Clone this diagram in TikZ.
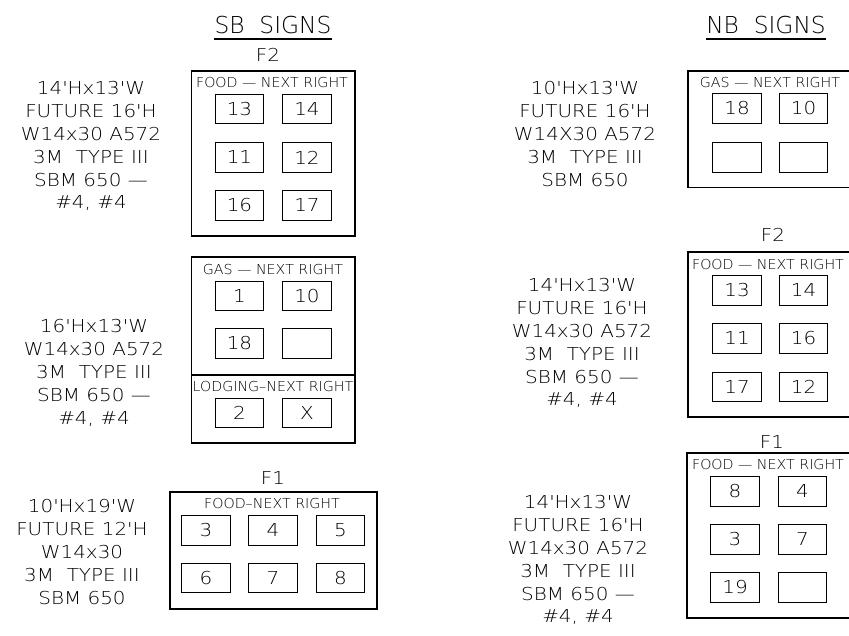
\documentclass[tikz,border=0pt]{standalone}
\usepackage{fontspec}
\setmainfont{DejaVu Sans ExtraLight}
\newfontfamily\wideFont{DejaVu Sans ExtraLight}[FakeStretch=1.12]
\newfontfamily\smallFont{DejaVu Sans ExtraLight}[FakeStretch=1.04]
\newcommand\myNum{\wideFont\fontsize{17.8}{22.8}\selectfont}
\newcommand\mySmall{\smallFont\fontsize{13.7}{16}\selectfont}
\newcommand\myTitle{\fontsize{23.3}{28}\selectfont}
\begin{document}
\begin{tikzpicture}[x=1pt,y=-1pt,
  bigbox/.style={draw, line width=1.7pt, inner sep=0pt},
  sbox/.style={draw, line width=1.4pt, inner sep=0pt, minimum width=48.5pt, minimum height=29.5pt, font=\myNum},
  lbl/.style={inner sep=0pt, font=\mySmall},
  flbl/.style={inner sep=0pt, font=\myNum},
  spec/.style={inner sep=0pt, font=\myNum, align=center, anchor=north},
  ttl/.style={inner sep=0pt, font=\myTitle, anchor=base}]
\useasboundingbox (0,0) rectangle (849,635);
\clip (0,0) rectangle (849,635);

% ---------- SB SIGNS ----------
\node[ttl] (sbt) at (273,33.5) {SB\ \ SIGNS};
\draw[line width=1.3pt] ([yshift=-5.5pt]sbt.base west) -- ([yshift=-5.5pt]sbt.base east);

% SB F2
\node[flbl] (sbf2t) at (268,55) {F2};
\node[bigbox, minimum width=163.5pt, minimum height=165pt] (sbf2) at (273.25,153.2) {};
\node[lbl] (sbf2l) at (272,83) {FOOD — NEXT RIGHT};
\node[sbox] (s13) at (239.5,109) {13};
\node[sbox] (s14) at (307,109) {14};
\node[sbox] (s11) at (239.5,157.5) {11};
\node[sbox] (s12) at (307,157.5) {12};
\node[sbox] (s16) at (239.5,205.5) {16};
\node[sbox] (s17) at (307,205.5) {17};
\node[spec] (sbf2s) at (91,81.5) {14'Hx13'W\\FUTURE 16'H\\W14x30 A572\\3M\ \ TYPE III\\SBM 650 —\\\#4, \#4};

% SB GAS / LODGING
\node[bigbox, minimum width=163.5pt, minimum height=186pt] (sbg) at (273.25,350) {};
\coordinate (divL) at (191.5,375);
\coordinate (divR) at (355,375);
\draw[line width=1.7pt] (divL) -- (divR);
\node[lbl] (sbgl) at (273,270) {GAS — NEXT RIGHT};
\node[sbox] (s1) at (239.5,296) {1};
\node[sbox] (s10) at (307,296) {10};
\node[sbox] (s18) at (239.5,343.5) {18};
\node[sbox] (sE1) at (307,343.5) {};
\node[lbl] (sbll) at (273,387) {LODGING–NEXT RIGHT};
\node[sbox] (s2) at (239.5,413) {2};
\node[sbox] (sX) at (307,413) {X};
\node[spec] (sbgs) at (94,319.5) {16'Hx13'W\\W14x30 A572\\3M\ \ TYPE III\\SBM 650 —\\\#4, \#4};

% SB F1
\node[flbl] (sbf1t) at (273,478) {F1};
\node[bigbox, minimum width=207pt, minimum height=117pt] (sbf1) at (273.5,550.5) {};
\node[lbl] (sbf1l) at (272,504) {FOOD–NEXT RIGHT};
\node[sbox] (s3) at (206,530.5) {3};
\node[sbox] (s4) at (273,530.5) {4};
\node[sbox] (s5) at (340.5,530.5) {5};
\node[sbox] (s6) at (206,578) {6};
\node[sbox] (s7) at (273,578) {7};
\node[sbox] (s8) at (340.5,578) {8};
\node[spec] (sbf1s) at (82,499.5) {10'Hx19'W\\FUTURE 12'H\\W14x30\\3M\ \ TYPE III\\SBM 650};

% ---------- NB SIGNS ----------
\node[ttl] (nbt) at (766,33.5) {NB\ \ SIGNS};
\draw[line width=1.3pt] ([yshift=-5.5pt]nbt.base west) -- ([yshift=-5.5pt]nbt.base east);

% NB GAS
\node[bigbox, minimum width=165pt, minimum height=116.8pt] (nbg) at (770.5,129.1) {};
\node[lbl] (nbgl) at (770,83) {GAS — NEXT RIGHT};
\node[sbox] (n18) at (737,108.5) {18};
\node[sbox] (n10) at (803.5,108.5) {10};
\node[sbox] (nE1) at (737,157.5) {};
\node[sbox] (nE2) at (803.5,157.5) {};
\node[spec] (nbgs) at (585,81.5) {10'Hx13'W\\FUTURE 16'H\\W14X30 A572\\3M\ \ TYPE III\\SBM 650};

% NB F2
\node[flbl] (nbf2t) at (773,235) {F2};
\node[bigbox, minimum width=165pt, minimum height=165pt] (nbf2) at (770.5,334.5) {};
\node[lbl] (nbf2l) at (768,265) {FOOD — NEXT RIGHT};
\node[sbox] (n13) at (737,290.5) {13};
\node[sbox] (n14) at (803.5,290.5) {14};
\node[sbox] (n11) at (737,338.5) {11};
\node[sbox] (n16) at (803.5,338.5) {16};
\node[sbox] (n17) at (737,387) {17};
\node[sbox] (n12) at (803.5,387) {12};
\node[spec] (nbf2s) at (582,278.5) {14'Hx13'W\\FUTURE 16'H\\W14x30 A572\\3M\ \ TYPE III\\SBM 650 —\\\#4, \#4};

% NB F1
\node[flbl] (nbf1t) at (772,442) {F1};
\node[bigbox, minimum width=166pt, minimum height=165pt] (nbf1) at (770,535.5) {};
\node[lbl] (nbf1l) at (768,465) {FOOD — NEXT RIGHT};
\node[sbox] (n8) at (735,491.5) {8};
\node[sbox] (n4) at (802.5,491.5) {4};
\node[sbox] (n3) at (735,539.5) {3};
\node[sbox] (n7) at (802.5,539.5) {7};
\node[sbox] (n19) at (735,587.5) {19};
\node[sbox] (nE3) at (802.5,587.5) {};
\node[spec] (nbf1s) at (578,495.5) {14'Hx13'W\\FUTURE 16'H\\W14x30 A572\\3M\ \ TYPE III\\SBM 650 —\\\#4, \#4};
\end{tikzpicture}
\end{document}
